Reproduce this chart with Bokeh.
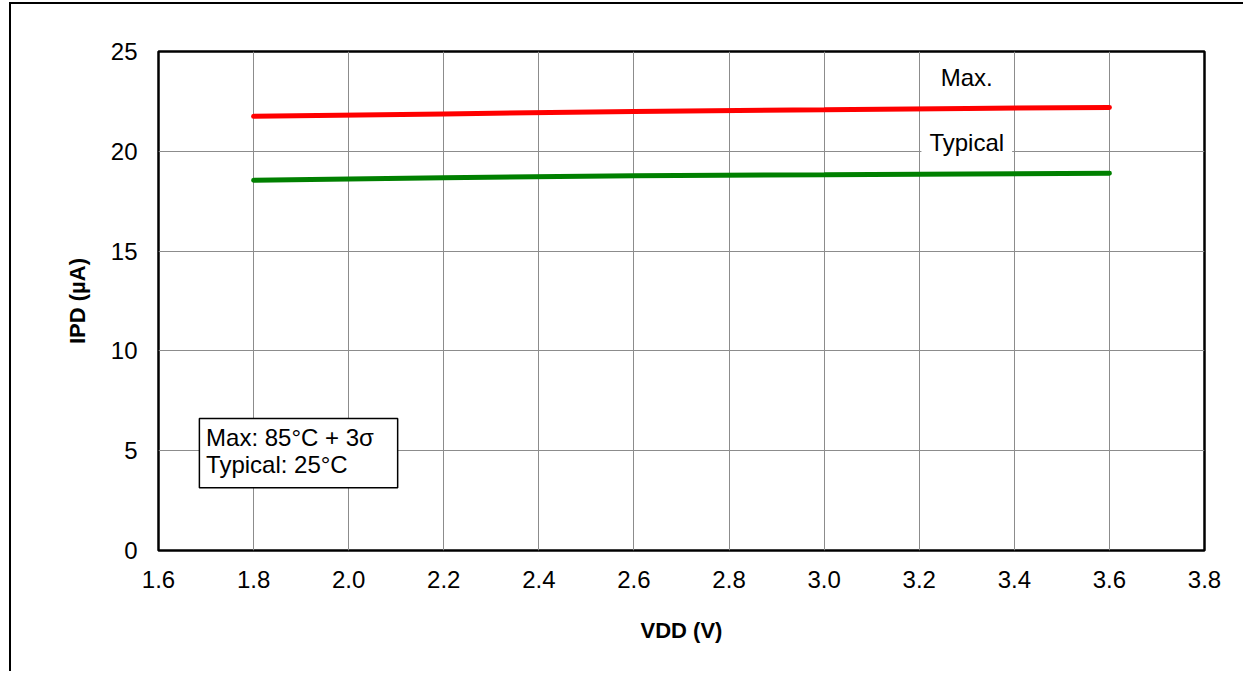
import math
from bokeh.plotting import figure
from bokeh.models import Range1d, FixedTicker, NumeralTickFormatter, Label, BoxAnnotation, ColumnDataSource
from bokeh.embed import file_html
from bokeh.resources import INLINE

# ---- data ----
vdd = [1.8, 2.2, 2.6, 3.0, 3.3, 3.6]
ipd_max = [21.75, 21.87, 22.0, 22.08, 22.15, 22.2]
ipd_typ = [18.55, 18.67, 18.78, 18.82, 18.86, 18.9]
x_ticks = [1.6, 1.8, 2.0, 2.2, 2.4, 2.6, 2.8, 3.0, 3.2, 3.4, 3.6, 3.8]
y_ticks = [0, 5, 10, 15, 20, 25]

FONT = "Liberation Sans"

p = figure(width=1234, height=669, output_backend="svg", toolbar_location=None,
           x_range=Range1d(1.6, 3.8), y_range=Range1d(0, 25),
           min_border_left=147, min_border_right=41, min_border_top=47, min_border_bottom=123)
p.styles = {"margin-left": "9px", "margin-top": "2px",
            "border-left": "2px solid black", "border-top": "2px solid black"}
p.background_fill_color = "white"
p.border_fill_color = "white"
p.outline_line_color = "black"
p.outline_line_width = 2.5

for ax in (p.xaxis[0], p.yaxis[0]):
    ax.axis_line_color = None
    ax.major_tick_line_color = None
    ax.minor_tick_line_color = None
    ax.major_tick_out = 0
    ax.major_tick_in = 0
    ax.minor_tick_out = 0
    ax.major_label_text_font = FONT
    ax.major_label_text_font_size = "24px"
    ax.major_label_text_color = "black"
    ax.axis_label_text_font = FONT
    ax.axis_label_text_font_style = "bold"
    ax.axis_label_text_font_size = "22px"
    ax.axis_label_text_color = "black"

p.xaxis[0].ticker = FixedTicker(ticks=x_ticks)
p.xaxis[0].formatter = NumeralTickFormatter(format="0.0")
p.xaxis[0].major_label_standoff = 20
p.xaxis[0].axis_label = "VDD (V)"
p.xaxis[0].axis_label_standoff = 27
p.yaxis[0].ticker = FixedTicker(ticks=y_ticks)
p.yaxis[0].major_label_standoff = 21
p.yaxis[0].axis_label = "IPD (µA)"
p.yaxis[0].axis_label_standoff = 18

p.xgrid.ticker = FixedTicker(ticks=x_ticks)
p.ygrid.ticker = FixedTicker(ticks=y_ticks)
p.xgrid.grid_line_color = "#8c8c8c"
p.ygrid.grid_line_color = "#8c8c8c"
p.xgrid.grid_line_width = 1
p.ygrid.grid_line_width = 1

src = ColumnDataSource(dict(x=vdd, ymax=ipd_max, ytyp=ipd_typ))
p.line("x", "ymax", source=src, line_color="#ff0000", line_width=5, line_cap="round")
p.line("x", "ytyp", source=src, line_color="#008000", line_width=5, line_cap="round")

# series labels
p.add_layout(Label(x=3.3, y=23.68, text="Max.", text_align="center", text_baseline="alphabetic",
                   text_font=FONT, text_font_size="24px", text_color="black"))
p.add_layout(Label(x=3.3, y=20.42, text="Typical", text_align="center", text_baseline="alphabetic",
                   text_font=FONT, text_font_size="24px", text_color="black",
                   background_fill_color="white", padding=8))

# note box
p.add_layout(BoxAnnotation(left=1.686, right=2.103, bottom=3.14, top=6.61,
                           fill_color="white", fill_alpha=1.0, line_color="black", line_alpha=1.0,
                           line_width=1.5, level="overlay"))
p.add_layout(Label(x=1.70, y=5.65, text="Max: 85°C + 3σ", text_align="left", text_baseline="alphabetic",
                   text_font=FONT, text_font_size="24px", text_color="black", level="overlay"))
p.add_layout(Label(x=1.70, y=4.29, text="Typical: 25°C", text_align="left", text_baseline="alphabetic",
                   text_font=FONT, text_font_size="24px", text_color="black", level="overlay"))

open("out.html", "w").write(file_html(p, INLINE))
